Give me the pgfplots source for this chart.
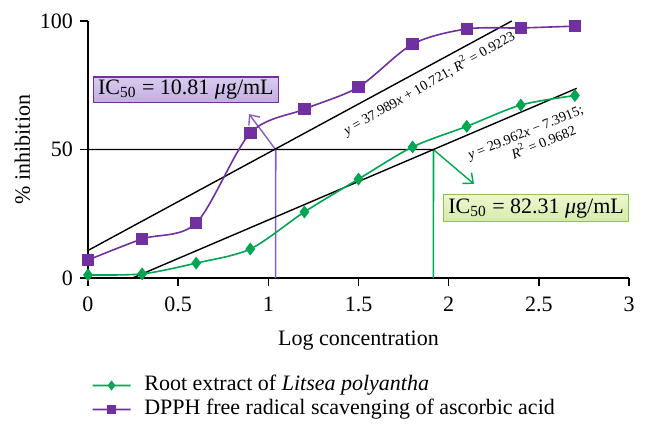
\documentclass[border=0pt]{standalone}
\usepackage{fontspec}
\setmainfont{Liberation Serif}
\usepackage{pgfplots}
\pgfplotsset{compat=1.18}
\usetikzlibrary{arrows.meta}
\definecolor{cgreen}{HTML}{00A651}
\definecolor{cpurple}{HTML}{7030A0}
\definecolor{lpurple}{HTML}{8A5CC0}
\definecolor{boxpurple}{HTML}{D9CCEE}
\definecolor{boxpurpleb}{HTML}{C4ADE3}
\definecolor{boxgreen}{HTML}{EEF7D2}
\definecolor{boxgreenb}{HTML}{D6EBA6}
\definecolor{bordergreen}{HTML}{8DC63F}
\begin{document}
\begin{tikzpicture}
\path[use as bounding box] (-44pt,-80.5pt) rectangle (279pt,139pt);
\begin{axis}[
  at={(0,0)}, anchor=south west,
  scale only axis, width=270.5pt, height=128.5pt,
  xmin=0, xmax=3, ymin=0, ymax=100,
  axis lines=left, axis line style={-, line width=0.7pt},
  xtick={0,0.5,1,1.5,2,2.5,3}, ytick={0,50,100},
  tick align=outside, major tick length=4pt,
  tick style={line width=0.7pt, black},
  /pgf/number format/assume math mode=true,
  ticklabel style={font=\fontsize{11}{13}\selectfont},
  xticklabel style={yshift=-1.75pt},
  xlabel={Log concentration}, ylabel={\% inhibition},
  label style={font=\fontsize{11}{13}\selectfont},
  xlabel style={yshift=-2.75pt},
  ylabel style={yshift=-2pt},
  clip=false,
  legend style={at={(0.006,-0.37)}, anchor=north west, draw=none, fill=none,
    font=\fontsize{11}{12}\selectfont, row sep=0pt, inner sep=0pt,
    nodes={inner sep=0.5pt, text height=8pt, text depth=3pt}},
  legend cell align=left,
  legend image post style={mark size=1.8pt},
  legend image code/.code={\draw[#1, line width=0.9pt, mark repeat=2, mark phase=2] plot coordinates {(0pt,0pt) (9.5pt,0.01pt) (19pt,0pt)}; \path (25pt,0pt);},
]
% reference lines
\draw[black, line width=0.6pt] (axis cs:0,50) -- (axis cs:1.915,50.02);
\draw[draw=lpurple, line width=0.8pt] (axis cs:1.04,0) -- (axis cs:1.041,50);
\draw[draw=cgreen, line width=0.8pt] (axis cs:1.915,0) -- (axis cs:1.916,50);
\addplot[lpurple, line width=0.7pt, -{Straight Barb[length=4pt, width=7pt]}, forget plot] coordinates {(1.04,50) (0.893,63.8)};
\addplot[cgreen, line width=0.7pt, -{Straight Barb[length=4pt, width=7pt]}, forget plot] coordinates {(1.915,50) (2.14,36.6)};
% trend lines
\addplot[black, line width=0.7pt, forget plot] coordinates {(0,10.721) (2.35,100)};
\addplot[black, line width=0.7pt, forget plot] coordinates {(0.2467,0) (2.71,73.8)};
% data
\addplot[cgreen, line width=0.8pt, smooth, mark=diamond*, mark size=2.6pt, mark options={fill=cgreen, solid}] coordinates {
(0,1.2) (0.3,1.6) (0.6,5.8) (0.9,11.3) (1.2,25.7) (1.5,38.5) (1.8,51) (2.1,59) (2.4,67.3) (2.7,71)};
\addlegendentry{Root extract of \textit{Litsea polyantha}}
\addplot[cpurple, line width=0.8pt, smooth, mark=square*, mark size=2.7pt, mark options={fill=cpurple, solid}] coordinates {
(0,7) (0.3,15.2) (0.6,21.4) (0.9,56.4) (1.2,65.7) (1.5,74.3) (1.8,91) (2.1,96.9) (2.4,97.3) (2.7,98)};
\addlegendentry{DPPH free radical scavenging of ascorbic acid}
% labels
\node[draw=cpurple, line width=0.6pt, top color=boxpurple, bottom color=boxpurpleb, inner xsep=2.5pt, inner ysep=1.5pt, font=\fontsize{11}{13}\selectfont]
  at (axis cs:0.543,73.3) {IC\textsubscript{50} = 10.81 \textit{μ}g/mL};
\node[draw=bordergreen, line width=0.6pt, top color=boxgreen, bottom color=boxgreenb, inner xsep=2.5pt, inner ysep=2pt, font=\fontsize{11}{13}\selectfont]
  at (axis cs:2.485,27.2) {IC\textsubscript{50} = 82.31 \textit{μ}g/mL};
\node[rotate=29.7, inner sep=0pt, font=\fontsize{7}{8}\selectfont] at (axis cs:1.891,76.0)
  {\textit{y} = 37.989\textit{x} + 10.721; \textit{R}\textsuperscript{2} = 0.9223};
\node[rotate=22, inner sep=0pt, align=center, font=\fontsize{7}{8.2}\selectfont] at (axis cs:2.443,53.7)
  {\textit{y} = 29.962\textit{x} − 7.3915;\\ \hspace*{13pt}\textit{R}\textsuperscript{2} = 0.9682};
\end{axis}
\end{tikzpicture}
\end{document}
